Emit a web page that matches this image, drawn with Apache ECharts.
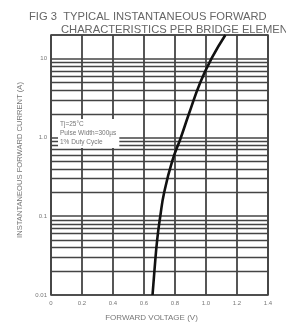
<!DOCTYPE html>
<html>
<head>
<meta charset="utf-8">
<script src="https://cdn.jsdelivr.net/npm/echarts@6/dist/echarts.min.js"></script>
<style>
  html, body { margin: 0; padding: 0; background: #fff; }
  #chart { width: 286px; height: 329px; }
</style>
</head>
<body>
<div id="chart"></div>
<script>
// forward current (A) vs forward voltage (V)
var currents = [0.01, 0.02, 0.05, 0.1, 0.2, 0.5, 1, 2, 5, 10, 20];
var voltages = [0.655, 0.667, 0.685, 0.705, 0.73, 0.782, 0.838, 0.89, 0.963, 1.035, 1.125];

var xTicks = [0, 0.2, 0.4, 0.6, 0.8, 1.0, 1.2, 1.4];
var yLabels = {0.01: '0.01', 0.1: '0.1', 1: '1.0', 10: '10'};

// log paper minor lines
var minorLines = [
    0.02, 0.03, 0.04, 0.05, 0.06, 0.07, 0.08, 0.09,
    0.2, 0.3, 0.4, 0.5, 0.6, 0.7, 0.8, 0.9,
    2, 3, 4, 5, 6, 7, 8, 9
];

var gridColor = '#444';
var textColor = '#777';

var chart = echarts.init(document.getElementById('chart'));

var points = voltages.map(function(v, i) { return [v, currents[i]]; });

chart.setOption({
    animation: false,
    title: [{
        text: 'FIG 3  TYPICAL INSTANTANEOUS FORWARD',
        left: 24, top: 6,
        textStyle: {fontSize: 11.2, fontWeight: 'normal', color: '#666', fontFamily: 'Liberation Sans'}
    }, {
        text: 'CHARACTERISTICS PER BRIDGE ELEMENT',
        left: 56, top: 19,
        textStyle: {fontSize: 11.2, fontWeight: 'normal', color: '#666', fontFamily: 'Liberation Sans'}
    }],
    grid: {
        left: 51, right: 18, top: 35, bottom: 34,
        show: true, borderColor: gridColor, borderWidth: 1.6
    },
    xAxis: {
        type: 'value',
        min: 0, max: 1.4, interval: 0.2,
        name: 'FORWARD VOLTAGE (V)',
        nameLocation: 'middle',
        nameGap: 19,
        nameTextStyle: {fontSize: 8, color: textColor, padding: [0, 16, 0, 0]},
        axisLine: {show: false},
        axisTick: {show: false},
        axisLabel: {
            fontSize: 6, color: textColor, margin: 5,
            formatter: function(v) { return v === 0 ? '0' : v.toFixed(1); }
        },
        splitLine: {show: true, lineStyle: {color: gridColor, width: 1.8}}
    },
    yAxis: {
        type: 'log',
        logBase: 10,
        min: 0.01, max: 20,
        name: 'INSTANTANEOUS FORWARD CURRENT (A)',
        nameLocation: 'middle',
        nameGap: 27,
        nameRotate: 90,
        nameTextStyle: {fontSize: 7.6, color: textColor, padding: [0, 0, 0, 10]},
        axisLine: {show: false},
        axisTick: {show: false},
        axisLabel: {
            fontSize: 6, color: textColor, margin: 4,
            formatter: function(v) { return yLabels[v] || ''; }
        },
        splitLine: {show: true, lineStyle: {color: gridColor, width: 1.5}}
    },
    graphic: [{
        type: 'text',
        left: 58, top: 119,
        z: 100,
        style: {
            text: 'Tj=25°C\nPulse Width=300µs\n1% Duty Cycle',
            fontSize: 6.5, lineHeight: 9,
            fill: '#777',
            backgroundColor: '#fff',
            padding: [1, 3, 1, 2]
        }
    }],
    series: [{
        type: 'line',
        data: points,
        smooth: true,
        symbol: 'none',
        lineStyle: {color: '#111', width: 2.6},
        z: 10,
        markLine: {
            silent: true,
            symbol: 'none',
            label: {show: false},
            lineStyle: {color: gridColor, width: 1.3, type: 'solid'},
            z: 1,
            data: minorLines.map(function(v) { return {yAxis: v}; })
        }
    }]
});
</script>
</body>
</html>
